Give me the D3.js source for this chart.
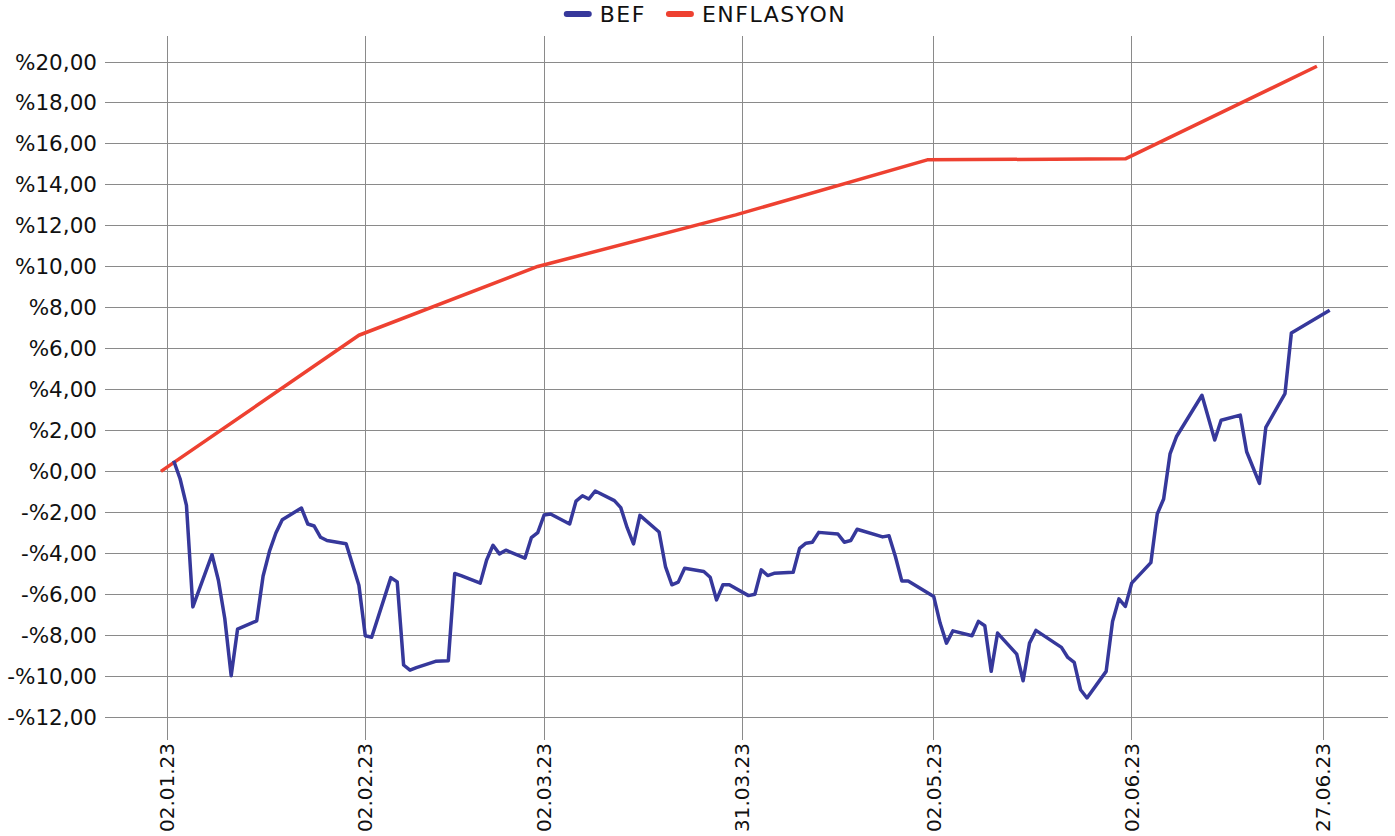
<!DOCTYPE html>
<html>
<head>
<meta charset="utf-8">
<script src="https://cdn.jsdelivr.net/npm/d3@7"></script>
<style>
  html, body { margin: 0; padding: 0; background: #fff; }
  svg { display: block; }
  text { font-family: "DejaVu Sans", sans-serif; fill: #111; }
</style>
</head>
<body>
<svg id="chart" width="1395" height="836"></svg>
<script>
// ---- data ----
const seriesNames = ["BEF", "ENFLASYON"];
const seriesColors = ["#36389b", "#ee4131"];

const befDates = [
  "2023-01-03","2023-01-04","2023-01-05","2023-01-06","2023-01-09","2023-01-10","2023-01-11","2023-01-12","2023-01-13",
  "2023-01-16","2023-01-17","2023-01-18","2023-01-19","2023-01-20","2023-01-23","2023-01-24","2023-01-25","2023-01-26","2023-01-27",
  "2023-01-30","2023-02-01","2023-02-02","2023-02-03","2023-02-06","2023-02-07","2023-02-08","2023-02-09","2023-02-10",
  "2023-02-13","2023-02-15","2023-02-16","2023-02-17","2023-02-20","2023-02-21","2023-02-22","2023-02-23","2023-02-24",
  "2023-02-27","2023-02-28","2023-03-01","2023-03-02","2023-03-03","2023-03-06","2023-03-07","2023-03-08","2023-03-09","2023-03-10",
  "2023-03-13","2023-03-14","2023-03-15","2023-03-16","2023-03-17","2023-03-20","2023-03-21","2023-03-22","2023-03-23","2023-03-24",
  "2023-03-27","2023-03-28","2023-03-29","2023-03-30","2023-03-31","2023-04-03","2023-04-04","2023-04-05","2023-04-06","2023-04-07",
  "2023-04-10","2023-04-11","2023-04-12","2023-04-13","2023-04-14","2023-04-17","2023-04-18","2023-04-19","2023-04-20",
  "2023-04-24","2023-04-25","2023-04-26","2023-04-27","2023-04-28","2023-05-02","2023-05-03","2023-05-04","2023-05-05",
  "2023-05-08","2023-05-09","2023-05-10","2023-05-11","2023-05-12","2023-05-15","2023-05-16","2023-05-17","2023-05-18",
  "2023-05-22","2023-05-23","2023-05-24","2023-05-25","2023-05-26","2023-05-29","2023-05-30","2023-05-31","2023-06-01","2023-06-02",
  "2023-06-05","2023-06-06","2023-06-07","2023-06-08","2023-06-09","2023-06-13","2023-06-15","2023-06-16",
  "2023-06-19","2023-06-20","2023-06-22","2023-06-23","2023-06-26","2023-06-27","2023-07-03"
];
const befValues = [
  0.52,-0.36,-1.66,-6.62,-4.07,-5.32,-7.19,-9.98,-7.71,
  -7.30,-5.11,-3.90,-3.01,-2.36,-1.79,-2.57,-2.67,-3.22,-3.38,
  -3.54,-5.56,-8.03,-8.10,-5.19,-5.40,-9.46,-9.71,-9.59,
  -9.28,-9.25,-4.99,-5.09,-5.46,-4.33,-3.61,-4.03,-3.85,
  -4.24,-3.24,-2.99,-2.13,-2.08,-2.57,-1.45,-1.19,-1.35,-0.96,
  -1.43,-1.77,-2.75,-3.54,-2.15,-2.96,-4.65,-5.54,-5.41,-4.73,
  -4.89,-5.17,-6.28,-5.54,-5.54,-6.07,-6.00,-4.81,-5.09,-4.98,
  -4.93,-3.76,-3.51,-3.46,-2.98,-3.06,-3.46,-3.38,-2.83,
  -3.20,-3.15,-4.16,-5.35,-5.35,-6.11,-7.41,-8.39,-7.79,
  -8.03,-7.33,-7.54,-9.77,-7.90,-8.93,-10.23,-8.39,-7.77,
  -8.60,-9.09,-9.33,-10.67,-11.07,-9.77,-7.33,-6.23,-6.60,-5.46,
  -4.46,-2.08,-1.35,0.85,1.69,3.72,1.53,2.50,
  2.75,0.96,-0.59,2.15,3.80,6.76,7.87
];

const enfDates = ["2023-01-01","2023-02-01","2023-03-01","2023-04-01","2023-05-01","2023-06-01","2023-07-01"];
const enfValues = [0, 6.65, 10.01, 12.53, 15.22, 15.27, 19.79];

const xTickDates = ["2023-01-02","2023-02-02","2023-03-02","2023-04-02","2023-05-02","2023-06-02","2023-07-02"];
const xTickLabels = ["02.01.23","02.02.23","02.03.23","31.03.23","02.05.23","02.06.23","27.06.23"];
const yTicks = [20,18,16,14,12,10,8,6,4,2,0,-2,-4,-6,-8,-10,-12];

// ---- layout ----
const plotLeft = 105, plotRight = 1388, plotTop = 36;
const parse = d3.utcParse("%Y-%m-%d");

const x = d3.scaleUtc()
  .domain([parse(xTickDates[0]), parse(xTickDates[xTickDates.length - 1])])
  .range([167.3, 1323.3]);
const y = d3.scaleLinear().domain([-12, 20]).range([717, 62]);

const svg = d3.select("#chart");

// horizontal gridlines
svg.append("g")
  .selectAll("line").data(yTicks).join("line")
  .attr("x1", plotLeft).attr("x2", plotRight)
  .attr("y1", d => y(d)).attr("y2", d => y(d))
  .attr("stroke", "#8a8a8a").attr("stroke-width", 1).attr("shape-rendering", "crispEdges");

// vertical gridlines with tick extension
const xTicks = xTickDates.map(parse);
svg.append("g")
  .selectAll("line").data(xTicks).join("line")
  .attr("x1", d => x(d)).attr("x2", d => x(d))
  .attr("y1", plotTop).attr("y2", 740)
  .attr("stroke", "#8a8a8a").attr("stroke-width", 1).attr("shape-rendering", "crispEdges");

// y labels
const fmt = v => (v < 0 ? "-%" : "%") + Math.abs(v).toFixed(2).replace(".", ",");
svg.append("g")
  .selectAll("text").data(yTicks).join("text")
  .attr("x", 97).attr("y", d => y(d))
  .attr("text-anchor", "end").attr("dominant-baseline", "central")
  .style("font-size", "21.5px")
  .text(fmt);

// x labels rotated
svg.append("g")
  .selectAll("text").data(xTicks).join("text")
  .attr("transform", d => `translate(${x(d)},743) rotate(-90)`)
  .attr("text-anchor", "end").attr("dominant-baseline", "central")
  .style("font-size", "20px")
  .text((d, i) => xTickLabels[i]);

// lines
const line = d3.line().x(d => x(d[0])).y(d => y(d[1]));
const enfData = enfDates.map((d, i) => [parse(d), enfValues[i]]);
const befData = befDates.map((d, i) => [parse(d), befValues[i]]);

svg.append("path").datum(enfData)
  .attr("d", line).attr("fill", "none")
  .attr("stroke", seriesColors[1]).attr("stroke-width", 3.5)
  .attr("stroke-linejoin", "round");
svg.append("path").datum(befData)
  .attr("d", line).attr("fill", "none")
  .attr("stroke", seriesColors[0]).attr("stroke-width", 3.5)
  .attr("stroke-linejoin", "round");

// legend
const legend = svg.append("g");
let cx = 0;
seriesNames.forEach((name, i) => {
  const g = legend.append("g").attr("transform", `translate(${cx},0)`);
  g.append("line").attr("x1", 3).attr("x2", 25).attr("y1", 0).attr("y2", 0)
    .attr("stroke", seriesColors[i]).attr("stroke-width", 6).attr("stroke-linecap", "round");
  const t = g.append("text").attr("x", 36).attr("y", 0)
    .attr("dominant-baseline", "central")
    .style("font-size", "22px").style("letter-spacing", "1.5px").text(name);
  cx += 36 + t.node().getComputedTextLength() + 20;
});
const lw = cx - 20;
legend.attr("transform", `translate(${705 - lw / 2},14)`);
</script>
</body>
</html>
